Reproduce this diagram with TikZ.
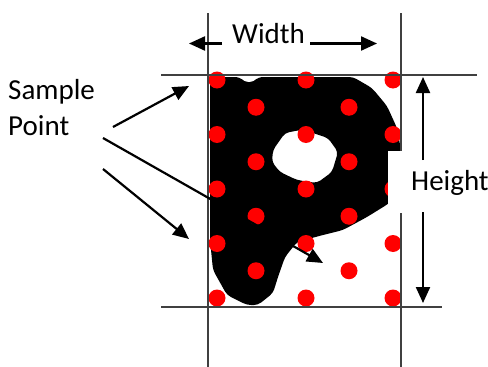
\documentclass[tikz,border=0pt]{standalone}
\usepackage{fontspec}
\setmainfont{Carlito}
\usetikzlibrary{arrows.meta}
\begin{document}
\begin{tikzpicture}[x=1pt,y=-1pt,
  guide/.style={draw=black!75,line width=1.4pt},
  dot/.style={fill=red,draw=none},
  pointer/.style={draw=black,line width=2.2pt,-{Triangle[length=16pt,width=14pt]}},
  lbl/.style={font=\fontsize{29}{36}\selectfont,inner sep=0pt,anchor=base west}]
\useasboundingbox (0,0) rectangle (488,367);
\fill[white] (0,0) rectangle (488,367);
% the letter P
\fill[black,even odd rule,rounded corners=4pt]
  (210,77) -- (240,77) -- (244,82) -- (254,82) -- (258,77) -- (353,77) -- (372,88) -- (387,106) -- (397,128)
  -- (401,150) -- (398,195) -- (388,204) -- (367,217) -- (343,230) -- (323,235)
  -- (297,242) -- (285,257) -- (278,277) -- (273,293) -- (258,305) -- (247,305)
  -- (227,295) -- (213,270) -- (210,240) -- cycle
  (300,130) -- (313,133) -- (328,138) -- (338,152) -- (332,172) -- (317,183)
  -- (297,180) -- (280,172) -- (272,162) -- (273,150) -- (285,133) -- cycle;
% sample points
\foreach \r in {0,2,4,6,8} {
  \foreach \c in {217,306,393} \fill[dot] (\c,80+27.25*\r) circle (8.5);
}
\foreach \r in {1,3,5,7} {
  \foreach \c in {256,349} \fill[dot] (\c,80+27.25*\r) circle (8.5);
}
% guide lines
\draw[guide] (208,13) -- (208,367);
\draw[guide] (401,13) -- (401,367);
\draw[guide] (161,75) -- (477,75);
\draw[guide] (161,307) -- (442,307);
% Height label box
\fill[white] (388,151) rectangle (488,213);
% labels
\node[lbl] (w) at (232,43) {Width};
\node[lbl] (h) at (411,190) {Height};
\node[lbl,align=left] (sp) at (8,135) {Sample\\Point};
% width arrows
\coordinate (wls) at (222,43.5);
\coordinate (wrs) at (310,43.5);
\coordinate (wl) at (189,43.5);
\coordinate (wr) at (377,43.5);
\draw[pointer] (wls) -- (wl);
\draw[pointer] (wrs) -- (wr);
% height arrows
\coordinate (hts) at (423,160);
\coordinate (hbs) at (423,212);
\coordinate (ht) at (423,77);
\coordinate (hb) at (423,303);
\draw[pointer] (hts) -- (ht);
\draw[pointer] (hbs) -- (hb);
% sample point arrows
\coordinate (s1) at (113,127);
\coordinate (s2) at (103,138);
\coordinate (s3) at (103,169);
\coordinate (t1) at (189,86);
\coordinate (t2) at (323,263);
\coordinate (t3) at (189,239);
\draw[pointer] (s1) -- (t1);
\draw[pointer] (s2) -- (t2);
\draw[pointer] (s3) -- (t3);
\end{tikzpicture}
\end{document}
